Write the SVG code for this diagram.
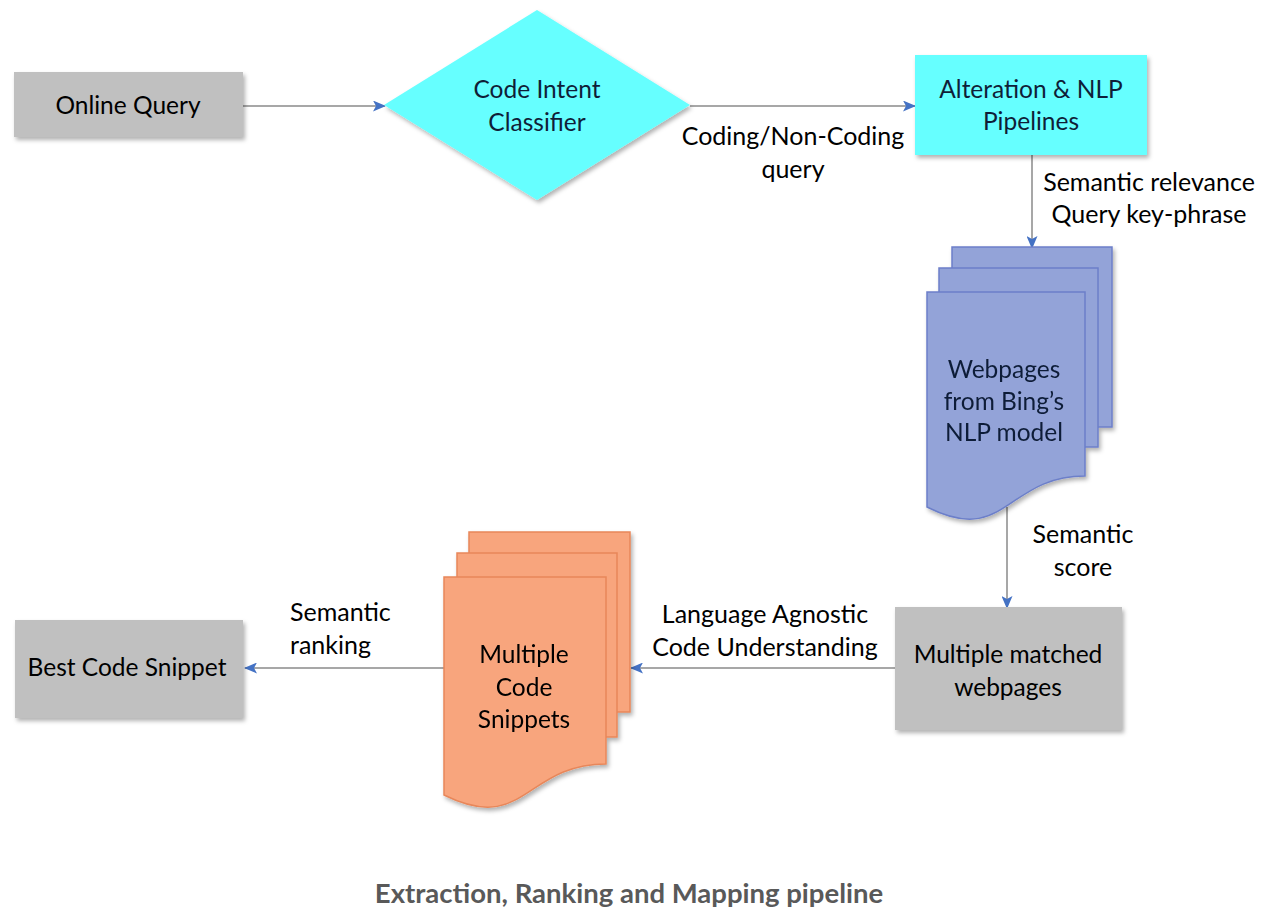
<svg xmlns="http://www.w3.org/2000/svg" width="1282" height="922" viewBox="0 0 1282 922">
<style>
  .t { font-family: Lato, "Open Sans", sans-serif; font-size: 24.5px; text-anchor: middle; fill: #000; }
  .tn { fill: #0f1e38; }
  .lbl { font-family: Lato, "Open Sans", sans-serif; font-size: 25px; fill: #000; }
  .cap { font-family: Lato, "Open Sans", sans-serif; font-size: 27.5px; font-weight: bold; fill: #595959; text-anchor: middle; }
  .gray { fill: #c0c0c0; }
  .cyan { fill: #66ffff; }
  .blue { fill: #93a3d8; stroke: #6c7fc9; stroke-width: 1.5; }
  .orange { fill: #f8a57d; stroke: #e8875a; stroke-width: 1.5; }
  .conn { stroke: #8a8a8a; stroke-width: 1.5; fill: none; marker-end: url(#arr); }
</style>
<defs>
  <filter id="sh" x="-10%" y="-10%" width="125%" height="130%">
    <feDropShadow dx="2" dy="3" stdDeviation="2" flood-color="#000" flood-opacity="0.3"/>
  </filter>
  <marker id="arr" viewBox="0 0 13 11" refX="12" refY="5.5" markerWidth="13" markerHeight="11" markerUnits="userSpaceOnUse" orient="auto">
    <path d="M0,0 L13,5.5 L0,11 L3,5.5 Z" fill="#4472c4"/>
  </marker>
</defs>
<rect width="1282" height="922" fill="#fff"/>

<g id="connectors">
  <line class="conn" x1="243" y1="106" x2="385" y2="106"/>
  <line class="conn" x1="690" y1="106" x2="915" y2="106"/>
  <line class="conn" x1="1032" y1="155" x2="1032" y2="248"/>
  <line class="conn" x1="1007" y1="507" x2="1007" y2="608"/>
  <line class="conn" x1="895" y1="668" x2="631" y2="668"/>
  <line class="conn" x1="444" y1="668" x2="245" y2="668"/>
  <text class="lbl" x="793" y="145" text-anchor="middle">Coding/Non-Coding</text>
  <text class="lbl" x="793" y="178" text-anchor="middle">query</text>
  <text class="lbl" x="1149" y="191" text-anchor="middle">Semantic relevance</text>
  <text class="lbl" x="1149" y="223" text-anchor="middle">Query key-phrase</text>
  <text class="lbl" x="1083" y="543" text-anchor="middle">Semantic</text>
  <text class="lbl" x="1083" y="576" text-anchor="middle">score</text>
  <text class="lbl" x="765" y="623" text-anchor="middle">Language Agnostic</text>
  <text class="lbl" x="765" y="656" text-anchor="middle">Code Understanding</text>
  <text class="lbl" x="290" y="621">Semantic</text>
  <text class="lbl" x="290" y="654">ranking</text>
</g>

<g id="online-query">
  <rect class="gray" x="14" y="72" width="229" height="65" filter="url(#sh)"/>
  <text class="t" x="128" y="114">Online Query</text>
</g>

<g id="code-intent-classifier">
  <polygon class="cyan" points="384,105 537,10 690,105 537,200" filter="url(#sh)"/>
  <text class="t tn" x="537" y="98">Code Intent</text>
  <text class="t tn" x="537" y="131">Classifier</text>
</g>

<g id="alteration-nlp">
  <rect class="cyan" x="915" y="55" width="232" height="100" filter="url(#sh)"/>
  <text class="t tn" x="1031" y="98">Alteration &amp; NLP</text>
  <text class="t tn" x="1031" y="130">Pipelines</text>
</g>

<g id="webpages" filter="url(#sh)">
  <rect class="blue" x="952" y="247" width="160" height="180"/>
  <rect class="blue" x="939" y="268" width="159" height="179"/>
  <path class="blue" d="M927,292 H1085 V476 C1006,476 1006,547 927,507 Z"/>
  <text class="t tn" x="1004" y="378">Webpages</text>
  <text class="t tn" x="1004" y="410">from Bing’s</text>
  <text class="t tn" x="1004" y="441">NLP model</text>
</g>

<g id="matched-webpages">
  <rect class="gray" x="895" y="607" width="227" height="123" filter="url(#sh)"/>
  <text class="t" x="1008" y="663">Multiple matched</text>
  <text class="t" x="1008" y="696">webpages</text>
</g>

<g id="code-snippets" filter="url(#sh)">
  <rect class="orange" x="469" y="532" width="161" height="180"/>
  <rect class="orange" x="457" y="553" width="160" height="184"/>
  <path class="orange" d="M444,577 H606 V764 C525,764 525,835 444,795 Z"/>
  <text class="t" x="524" y="663">Multiple</text>
  <text class="t" x="524" y="696">Code</text>
  <text class="t" x="524" y="728">Snippets</text>
</g>

<g id="best-code-snippet">
  <rect class="gray" x="15" y="620" width="228" height="98" filter="url(#sh)"/>
  <text class="t" x="127" y="676">Best Code Snippet</text>
</g>

<text class="cap" x="629" y="903">Extraction, Ranking and Mapping pipeline</text>
</svg>
